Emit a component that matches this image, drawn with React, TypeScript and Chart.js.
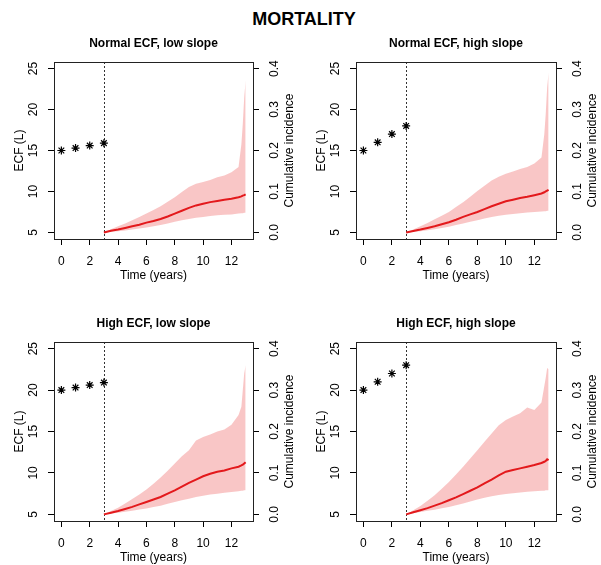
import React, { useEffect, useRef } from "react";
import { Chart, registerables } from "chart.js";

Chart.register(...registerables);

// ---- data ----
const starTimes = [0, 1, 2, 3];
const ecfNormalLow = [15, 15.3, 15.6, 15.9];
const ecfNormalHigh = [15, 16, 17, 18];
const ecfHighLow = [20, 20.3, 20.6, 20.9];
const ecfHighHigh = [20, 21, 22, 23];

const ciTimes = [3, 3.5, 4, 4.5, 5, 5.5, 6, 6.5, 7, 7.5, 8, 8.5, 9, 9.5, 10, 10.5, 11, 11.5, 12, 12.5, 12.7, 12.8, 12.9, 13];

const ciNormalLow = [0, 0.004, 0.007, 0.011, 0.015, 0.019, 0.024, 0.028, 0.033, 0.039, 0.046, 0.053, 0.060, 0.066, 0.070, 0.074, 0.077, 0.080, 0.082, 0.086, 0.088, 0.090, 0.091, 0.093];
const ciNormalLowUpper = [0, 0.008, 0.015, 0.022, 0.030, 0.038, 0.046, 0.055, 0.064, 0.075, 0.086, 0.099, 0.111, 0.119, 0.123, 0.128, 0.135, 0.139, 0.147, 0.160, 0.215, 0.265, 0.33, 0.37];
const ciNormalLowLower = [0, 0.0015, 0.003, 0.005, 0.007, 0.0095, 0.012, 0.015, 0.018, 0.022, 0.026, 0.030, 0.033, 0.036, 0.038, 0.040, 0.042, 0.043, 0.044, 0.046, 0.047, 0.047, 0.048, 0.048];

const ciNormalHigh = [0, 0.0035, 0.007, 0.011, 0.015, 0.020, 0.025, 0.031, 0.038, 0.044, 0.050, 0.057, 0.064, 0.070, 0.076, 0.080, 0.084, 0.087, 0.091, 0.095, 0.098, 0.100, 0.102, 0.104];
const ciNormalHighUpper = [0, 0.007, 0.015, 0.023, 0.032, 0.041, 0.050, 0.062, 0.074, 0.087, 0.101, 0.114, 0.127, 0.136, 0.143, 0.149, 0.155, 0.160, 0.168, 0.183, 0.24, 0.29, 0.355, 0.39];
const ciNormalHighLower = [0, 0.0015, 0.003, 0.0055, 0.008, 0.011, 0.014, 0.018, 0.022, 0.026, 0.030, 0.034, 0.038, 0.041, 0.043, 0.045, 0.047, 0.0485, 0.050, 0.051, 0.052, 0.052, 0.053, 0.053];

const ciHighLow = [0, 0.004, 0.008, 0.013, 0.018, 0.024, 0.030, 0.036, 0.042, 0.050, 0.058, 0.067, 0.076, 0.084, 0.092, 0.098, 0.103, 0.106, 0.111, 0.115, 0.118, 0.120, 0.123, 0.126];
const ciHighLowUpper = [0, 0.008, 0.016, 0.026, 0.037, 0.048, 0.060, 0.074, 0.089, 0.105, 0.123, 0.140, 0.155, 0.178, 0.187, 0.193, 0.200, 0.205, 0.216, 0.24, 0.26, 0.30, 0.34, 0.36];
const ciHighLowLower = [0, 0.002, 0.004, 0.0065, 0.009, 0.0115, 0.014, 0.0175, 0.021, 0.0255, 0.030, 0.034, 0.038, 0.042, 0.045, 0.048, 0.050, 0.052, 0.054, 0.056, 0.057, 0.057, 0.058, 0.058];

const ciHighHigh = [0, 0.005, 0.010, 0.015, 0.021, 0.027, 0.034, 0.041, 0.049, 0.057, 0.065, 0.075, 0.084, 0.094, 0.103, 0.107, 0.111, 0.115, 0.119, 0.124, 0.127, 0.129, 0.133, 0.131];
const ciHighHighUpper = [0, 0.010, 0.020, 0.033, 0.046, 0.062, 0.078, 0.096, 0.115, 0.135, 0.155, 0.175, 0.195, 0.215, 0.228, 0.236, 0.244, 0.258, 0.252, 0.27, 0.31, 0.33, 0.353, 0.35];
const ciHighHighLower = [0, 0.003, 0.006, 0.0085, 0.011, 0.0145, 0.018, 0.022, 0.026, 0.031, 0.036, 0.040, 0.044, 0.047, 0.049, 0.051, 0.053, 0.0545, 0.056, 0.057, 0.057, 0.058, 0.058, 0.058];

const landmarkTime = 3;
const xTicks = [0, 2, 4, 6, 8, 10, 12];
const ecfTicks = [5, 10, 15, 20, 25];
const ciTicks = [0, 0.1, 0.2, 0.3, 0.4];

const mainTitle = "MORTALITY";
const panelTitles = ["Normal ECF, low slope", "Normal ECF, high slope", "High ECF, low slope", "High ECF, high slope"];
const xTitle = "Time (years)";
const ecfTitle = "ECF (L)";
const ciTitle = "Cumulative incidence";

// ---- layout (page pixel boxes of each plot region) ----
const boxes = [
  { l: 54, t: 62, r: 253, b: 239 },
  { l: 356, t: 62, r: 556, b: 239 },
  { l: 54, t: 342, r: 253, b: 521 },
  { l: 356, t: 342, r: 556, b: 521 },
];
const LEFT_W = 54;
const RIGHT_W = 45;
const TOP_H = 32;
const BOTTOM_H = 44;

const panelData = [
  { ecf: ecfNormalLow, ci: ciNormalLow, up: ciNormalLowUpper, lo: ciNormalLowLower },
  { ecf: ecfNormalHigh, ci: ciNormalHigh, up: ciNormalHighUpper, lo: ciNormalHighLower },
  { ecf: ecfHighLow, ci: ciHighLow, up: ciHighLowUpper, lo: ciHighLowLower },
  { ecf: ecfHighHigh, ci: ciHighHigh, up: ciHighHighUpper, lo: ciHighHighLower },
];

const FONT = "'Liberation Sans', Arial, Helvetica, sans-serif";
const RED = "#e3191c";
const PINK = "rgba(240,120,120,0.42)";

function Panel({ idx }: { idx: number }) {
  const ref = useRef<HTMLCanvasElement | null>(null);
  const box = boxes[idx];
  const w = box.r - box.l + LEFT_W + RIGHT_W;
  const h = box.b - box.t + TOP_H + BOTTOM_H;
  const left = box.l - LEFT_W;
  const top = box.t - TOP_H;

  useEffect(() => {
    const d = panelData[idx];
    const pts = (ys: number[]) => ciTimes.map((t, i) => ({ x: t, y: ys[i] }));
    const framePlugin = {
      id: "frame" + idx,
      beforeDatasetsDraw(chart: any) {
        const { ctx, chartArea } = chart;
        const x = Math.round(chart.scales.x.getPixelForValue(landmarkTime)) + 0.5;
        ctx.save();
        ctx.strokeStyle = "#333";
        ctx.lineWidth = 1;
        ctx.setLineDash([2, 2]);
        ctx.beginPath();
        ctx.moveTo(x, chartArea.top);
        ctx.lineTo(x, chartArea.bottom);
        ctx.stroke();
        ctx.restore();
      },
      afterDraw(chart: any) {
        const { ctx, chartArea } = chart;
        ctx.save();
        ctx.strokeStyle = "#222";
        ctx.lineWidth = 1;
        ctx.strokeRect(chartArea.left + 0.5, chartArea.top + 0.5, chartArea.right - chartArea.left, chartArea.bottom - chartArea.top);
        ctx.translate(chartArea.right + 37, (chartArea.top + chartArea.bottom) / 2);
        ctx.rotate(-Math.PI / 2);
        ctx.fillStyle = "#000";
        ctx.font = "12px " + FONT;
        ctx.textAlign = "center";
        ctx.textBaseline = "middle";
        ctx.fillText(ciTitle, 0, 0);
        ctx.restore();
      },
    };

    const tickFont = { size: 12, family: FONT };
    const chart = new Chart(ref.current as HTMLCanvasElement, {
      type: "line",
      data: {
        datasets: [
          {
            label: "incidence",
            data: pts(d.ci),
            yAxisID: "y2",
            borderColor: RED,
            borderWidth: 2,
            pointRadius: 0,
            fill: false,
            tension: 0,
          },
          {
            label: "ECF",
            data: starTimes.map((t, i) => ({ x: t, y: d.ecf[i] })),
            yAxisID: "y",
            showLine: false,
            pointStyle: "star",
            pointRadius: 4,
            pointBorderColor: "#000",
            pointBorderWidth: 1.2,
            borderColor: "#000",
            backgroundColor: "#000",
          },
          {
            label: "upper",
            data: pts(d.up),
            yAxisID: "y2",
            borderWidth: 0,
            borderColor: "rgba(0,0,0,0)",
            backgroundColor: PINK,
            pointRadius: 0,
            fill: "+1",
            tension: 0,
          },
          {
            label: "lower",
            data: pts(d.lo),
            yAxisID: "y2",
            borderWidth: 0,
            borderColor: "rgba(0,0,0,0)",
            pointRadius: 0,
            fill: false,
            tension: 0,
          },
        ],
      },
      options: {
        animation: false,
        responsive: false,
        events: [],
        layout: { padding: 0 },
        plugins: {
          legend: { display: false },
          tooltip: { enabled: false },
          title: {
            display: true,
            text: panelTitles[idx],
            color: "#000",
            font: { size: 12, weight: "bold", family: FONT, lineHeight: 1.2 },
            padding: { top: 6.5, bottom: TOP_H - 14.4 - 6.5 },
            fullSize: false,
          },
        },
        scales: {
          x: {
            type: "linear",
            min: -0.52,
            max: 13.52,
            afterBuildTicks: (s: any) => {
              s.ticks = xTicks.map((v) => ({ value: v }));
            },
            afterFit: (s: any) => {
              s.height = BOTTOM_H;
            },
            ticks: { autoSkip: false, maxRotation: 0, padding: 9, color: "#000", font: tickFont, callback: (v: any) => String(v) },
            grid: { drawOnChartArea: false, drawTicks: true, tickLength: 6, color: "#000", tickColor: "#000" },
            border: { display: false },
            title: { display: true, text: xTitle, color: "#000", font: { ...tickFont, lineHeight: 1.2 }, padding: { top: 0, bottom: 0 } },
          },
          y: {
            type: "linear",
            position: "left",
            min: 4.2,
            max: 25.8,
            afterBuildTicks: (s: any) => {
              s.ticks = ecfTicks.map((v) => ({ value: v }));
            },
            afterFit: (s: any) => {
              s.width = LEFT_W;
            },
            ticks: { autoSkip: false, minRotation: 90, maxRotation: 90, crossAlign: "center", padding: 8, color: "#000", font: tickFont, callback: (v: any) => String(v) },
            grid: { drawOnChartArea: false, drawTicks: true, tickLength: 6, color: "#000", tickColor: "#000" },
            border: { display: false },
            title: { display: true, text: ecfTitle, color: "#000", font: { ...tickFont, lineHeight: 1.2 }, padding: { top: 12, bottom: 0 } },
          },
          y2: {
            type: "linear",
            position: "right",
            min: -0.016,
            max: 0.416,
            afterBuildTicks: (s: any) => {
              s.ticks = ciTicks.map((v) => ({ value: v }));
            },
            afterFit: (s: any) => {
              s.width = RIGHT_W;
            },
            ticks: { autoSkip: false, minRotation: 90, maxRotation: 90, crossAlign: "center", padding: 7, color: "#000", font: tickFont, callback: (v: any) => Number(v).toFixed(1) },
            grid: { drawOnChartArea: false, drawTicks: true, tickLength: 6, color: "#000", tickColor: "#000" },
            border: { display: false },
          },
        },
      } as any,
      plugins: [framePlugin],
    });
    return () => chart.destroy();
  }, [idx]);

  return (
    <canvas
      ref={ref}
      width={w}
      height={h}
      style={{ position: "absolute", left, top, width: w, height: h }}
    />
  );
}

export default function App() {
  return (
    <div
      style={{
        position: "absolute",
        left: 0,
        top: 0,
        width: 601,
        height: 565,
        overflow: "hidden",
        background: "#fff",
      }}
    >
      <div
        style={{
          position: "absolute",
          left: 0,
          top: 10,
          width: 608,
          textAlign: "center",
          fontFamily: FONT,
          fontWeight: "bold",
          fontSize: 18,
          lineHeight: "18px",
          color: "#000",
        }}
      >
        {mainTitle}
      </div>
      {[0, 1, 2, 3].map((i) => (
        <Panel key={i} idx={i} />
      ))}
    </div>
  );
}
